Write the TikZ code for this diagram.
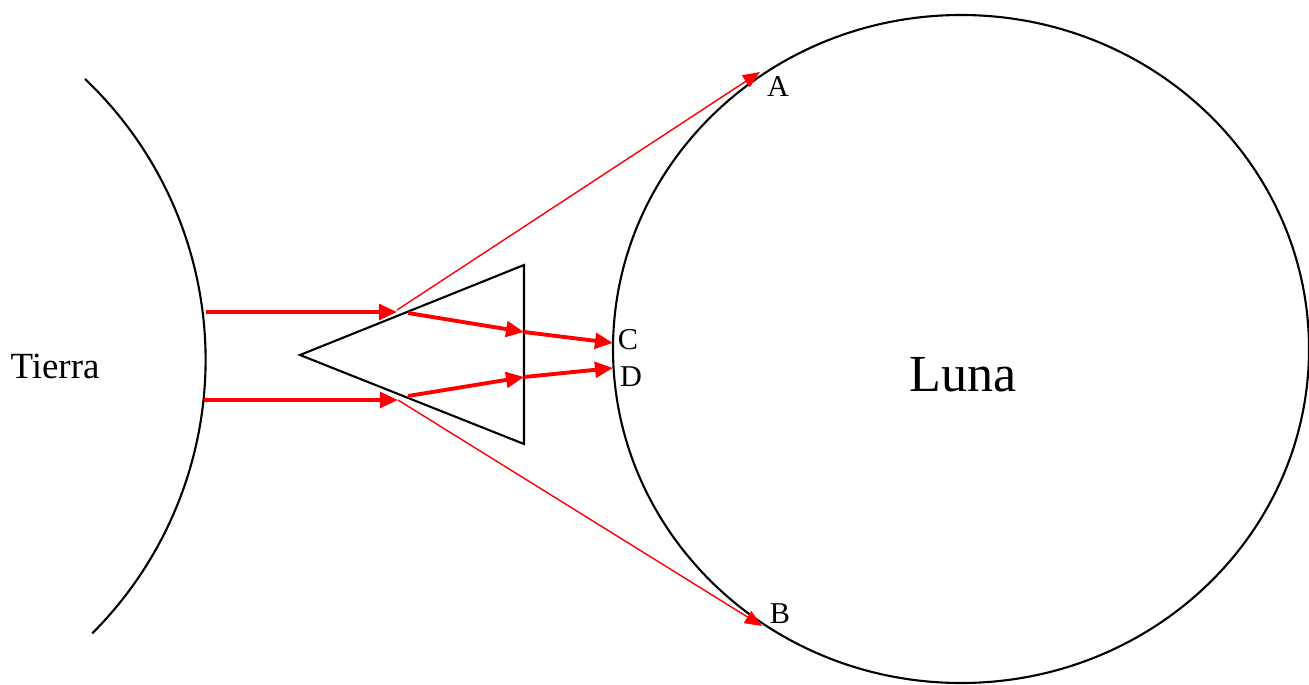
\documentclass[tikz,border=0pt]{standalone}
\usepackage{fontspec}
\setmainfont{Liberation Serif}
\usetikzlibrary{arrows.meta}

\begin{document}
\begin{tikzpicture}[x=0.01cm,y=0.01cm,
  body/.style={line width=0.6pt},
  ray/.style={red,line width=1.1pt,-{Triangle[length=1.8mm,width=1.55mm]}},
  thinray/.style={red,line width=0.4pt,-{Triangle[length=1.7mm,width=1.4mm]}},
  lbl/.style={font=\fontsize{8.6}{10}\selectfont,inner sep=0pt}]
\useasboundingbox (0,0) rectangle (1309,684);
% Tierra y Luna
\draw[body] (85,605) arc[start angle=46.5,end angle=-45,radius=387];
\draw[body] (961,335) ellipse[x radius=348,y radius=334];
\node[font=\fontsize{10.5}{12}\selectfont] (tierra) at (55,318) {Tierra};
\node[font=\fontsize{14.8}{17}\selectfont] (luna) at (963,309) {Luna};
% prisma
\coordinate (apex) at (300,329);
\coordinate (ptop) at (524,419);
\coordinate (pbot) at (524,240);
\draw[body] (apex) -- (ptop) -- (pbot) -- cycle;
% rayos
\coordinate (s1) at (206,372);
\coordinate (h1) at (397,372);
\coordinate (e1) at (408,371);
\coordinate (m1) at (524,352);
\coordinate (c) at (613,341);
\coordinate (s2) at (204,284);
\coordinate (h2) at (398,284);
\coordinate (e2) at (408,288);
\coordinate (m2) at (524,307);
\coordinate (d) at (613,316);
\coordinate (a) at (760,612);
\coordinate (b) at (762,58);
\draw[ray] (s1) -- (h1);
\draw[ray] (s2) -- (h2);
\draw[ray] (e1) -- (m1);
\draw[ray] (m1) -- (c);
\draw[ray] (e2) -- (m2);
\draw[ray] (m2) -- (d);
\draw[thinray] (397,374) -- (a);
\draw[thinray] (h2) -- (b);
\node[lbl] (la) at (778,597) {A};
\node[lbl] (lb) at (780,70) {B};
\node[lbl] (lc) at (628,344) {C};
\node[lbl] (ld) at (631,307) {D};
\end{tikzpicture}
\end{document}
